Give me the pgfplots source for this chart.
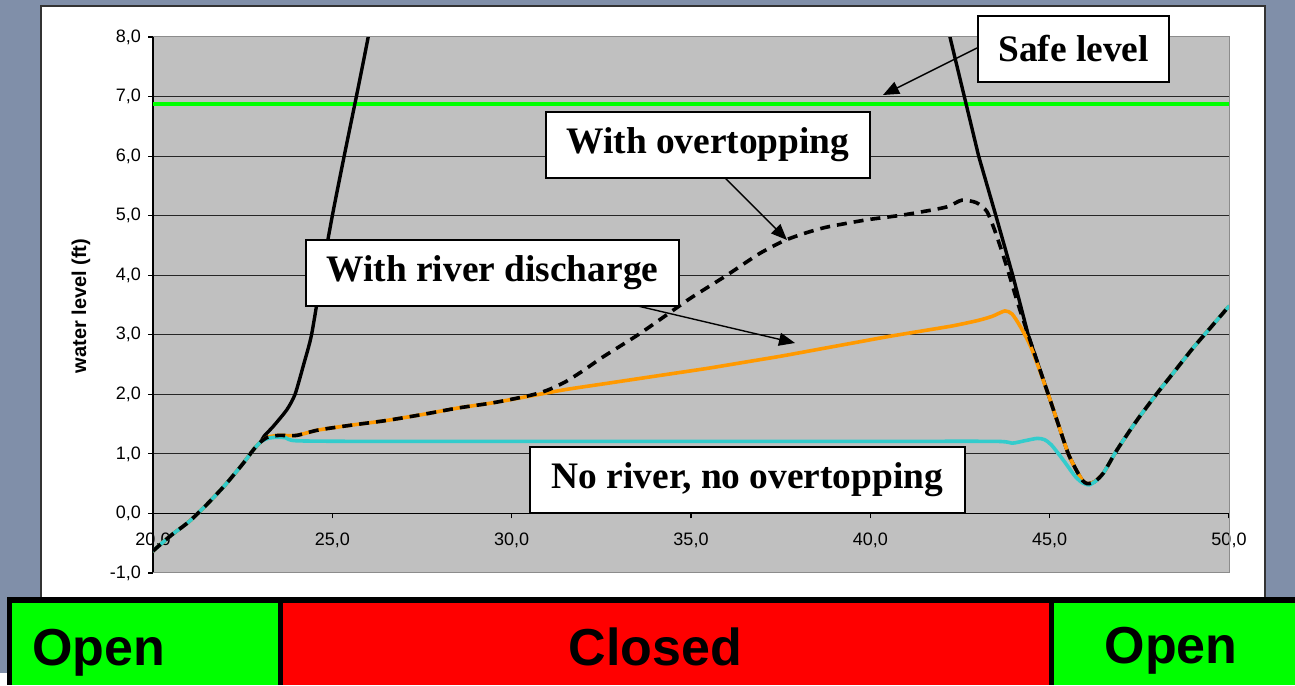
\documentclass[border=0pt]{standalone}
\usepackage{pgfplots}
\pgfplotsset{compat=1.18}
\usepackage{fontspec}
\setmainfont{Liberation Serif}
\newfontfamily\arial{Liberation Sans}
\usetikzlibrary{arrows.meta}

\definecolor{slide}{RGB}{128,143,169}
\definecolor{plotgrey}{RGB}{192,192,192}
\definecolor{safegreen}{RGB}{0,255,0}
\definecolor{riverorange}{RGB}{255,153,0}
\definecolor{basecyan}{RGB}{51,204,204}
\definecolor{gateopen}{RGB}{0,255,0}
\definecolor{gateclosed}{RGB}{255,0,0}

\begin{document}
\begin{tikzpicture}
% page layout in half-point units, origin at the top-left corner
\begin{scope}[yshift=342.5pt, x=0.5pt, y=-0.5pt]
  \useasboundingbox (0,0) rectangle (1295,685);
  \fill[slide] (0,0) rectangle (1295,685);
  \fill[white] (0,673) rectangle (7,685);
  \filldraw[fill=white, draw=black!80, line width=0.6pt] (41,6) rectangle (1265,598);
\end{scope}

\begin{axis}[
  at={(76.5pt,56pt)}, anchor=south west,
  scale only axis, width=538pt, height=268pt,
  xmin=20, xmax=50, ymin=-1, ymax=8,
  axis x line=middle, axis y line=left,
  axis line style={-, black, line width=0.6pt},
  hide obscured x ticks=false, hide obscured y ticks=false,
  axis background/.style={fill=plotgrey},
  xtick={20,25,...,50}, ytick={-1,0,...,8},
  ymajorgrids, major grid style={black!85, line width=0.5pt},
  tick align=outside, major tick length=2.5pt,
  tick style={black, line width=0.6pt},
  ticklabel style={font=\arial\fontsize{9}{10}\selectfont},
  xticklabel style={yshift=-3.5pt},
  /pgf/number format/fixed,
  /pgf/number format/fixed zerofill,
  /pgf/number format/precision=1,
  /pgf/number format/use comma,
  /pgf/number format/assume math mode=true,
  every axis plot/.append style={line join=round, line cap=round},
]
% safe level
\addplot[safegreen, line width=2pt] coordinates {(20,6.88) (50,6.88)};

% no gate: rises out of view and comes back down after the surge
\addplot[black, line width=1.7pt, smooth, tension=0.4] coordinates {
  (20.0,-0.63) (20.5,-0.37) (21.0,-0.14) (21.5,0.15) (22.0,0.47) (22.5,0.83) (22.8,1.07) (23.0,1.2)
  (23.1,1.3) (23.35,1.46) (23.73,1.74) (23.96,2.0) (24.2,2.5) (24.42,3.0) (24.7,4.0) (25.0,5.0)
  (25.33,6.0) (25.67,7.0) (26.0,8.0) (26.3,9.0) (26.6,10.0)};
\addplot[black, line width=1.7pt] coordinates {
  (41.65,9.5) (42.22,8.0) (42.62,7.0) (43.02,6.0) (43.5,5.0) (43.97,4.0) (44.4,3.0)};
\addplot[black, line width=1.7pt, smooth, tension=0.4] coordinates {
  (44.4,3.0) (44.96,2.0)
  (45.25,1.48) (45.52,1.0) (45.75,0.72) (45.92,0.55) (46.05,0.5) (46.25,0.53) (46.5,0.68) (46.85,1.04)
  (47.2,1.36) (47.5,1.62) (48.0,2.02) (48.5,2.4) (49.0,2.78) (49.5,3.13) (50.0,3.48)};

% with river discharge
\addplot[riverorange, line width=1.8pt, smooth, tension=0.4] coordinates {
  (20.0,-0.63) (20.5,-0.37) (21.0,-0.14) (21.5,0.15) (22.0,0.47) (22.5,0.83) (22.8,1.07) (23.0,1.2)
  (23.2,1.28) (23.5,1.31) (24.0,1.31) (24.6,1.4) (25.5,1.48) (26.5,1.56) (27.5,1.66) (28.5,1.77)
  (29.5,1.86) (30.5,1.97) (31.5,2.08) (32.5,2.17) (33.5,2.26) (34.5,2.35) (35.5,2.44) (36.5,2.54)
  (37.5,2.64) (38.5,2.75) (39.5,2.86) (40.5,2.97) (41.5,3.07) (42.3,3.15) (43.0,3.24) (43.4,3.31)
  (43.75,3.4) (43.95,3.35) (44.2,3.12) (44.5,2.76) (44.96,2.0)
  (45.25,1.48) (45.52,1.0) (45.75,0.72) (45.92,0.55) (46.05,0.5) (46.25,0.53) (46.5,0.68) (46.85,1.04)
  (47.2,1.36) (47.5,1.62) (48.0,2.02) (48.5,2.4) (49.0,2.78) (49.5,3.13) (50.0,3.48)};

% no river, no overtopping
\addplot[basecyan, line width=1.8pt, smooth, tension=0.4] coordinates {
  (20.0,-0.63) (20.5,-0.37) (21.0,-0.14) (21.5,0.15) (22.0,0.47) (22.5,0.83) (22.8,1.07) (23.0,1.2)
  (23.2,1.26) (23.45,1.28) (23.7,1.27) (24.0,1.22) (26,1.21) (30,1.21) (35,1.21) (40,1.21) (43.5,1.21)
  (43.95,1.18) (44.3,1.22) (44.65,1.26) (44.85,1.24) (45.05,1.15) (45.4,0.88) (45.7,0.63) (45.9,0.52)
  (46.1,0.48) (46.3,0.55) (46.5,0.68) (46.85,1.04)
  (47.2,1.36) (47.5,1.62) (48.0,2.02) (48.5,2.4) (49.0,2.78) (49.5,3.13) (50.0,3.48)};

% with overtopping
\addplot[black, line width=1.8pt, dash pattern=on 5pt off 3.5pt, line cap=butt, smooth, tension=0.4] coordinates {
  (20.0,-0.63) (20.5,-0.37) (21.0,-0.14) (21.5,0.15) (22.0,0.47) (22.5,0.83) (22.8,1.07) (23.0,1.2)
  (23.2,1.28) (23.5,1.31) (24.0,1.31) (24.6,1.4) (25.5,1.48) (26.5,1.56) (27.5,1.66) (28.5,1.77)
  (29.5,1.86) (30.5,1.98) (31.0,2.07) (31.5,2.21) (32.0,2.4) (32.5,2.61) (33.0,2.8) (33.6,3.03)
  (34.5,3.41) (35.0,3.62) (36.0,4.0) (36.9,4.36) (37.6,4.58) (38.2,4.71) (38.8,4.81) (39.9,4.93)
  (40.9,5.01) (41.85,5.11) (42.2,5.16) (42.55,5.26) (42.95,5.22) (43.25,5.07) (43.5,4.7) (43.8,4.15)
  (44.1,3.55) (44.4,3.0) (44.96,2.0)
  (45.25,1.48) (45.52,1.0) (45.75,0.72) (45.92,0.55) (46.05,0.5) (46.25,0.53) (46.5,0.68) (46.85,1.04)
  (47.2,1.36) (47.5,1.62) (48.0,2.02) (48.5,2.4) (49.0,2.78) (49.5,3.13) (50.0,3.48)};
\end{axis}

% plot-area frame (top, right, bottom)
\draw[black!45, line width=0.5pt] (76.5pt,324pt) -- (614.5pt,324pt) -- (614.5pt,56pt) -- (76.5pt,56pt);

\begin{scope}[yshift=342.5pt, x=0.5pt, y=-0.5pt]
  \tikzset{
    callout/.style={draw=black, line width=1pt, fill=white, inner sep=0pt, anchor=center,
      font=\bfseries\fontsize{18.7}{20}\selectfont},
    pointer/.style={line width=0.7pt, -{Triangle[length=8pt,width=6.5pt]}}}
  \node[rotate=90, font=\arial\bfseries\fontsize{10}{12}\selectfont] at (81,306) {water level (ft)};

  \draw[pointer] (977,48) -- (883,95);
  \draw[pointer] (722,175) -- (787,240);
  \draw[pointer] (625,303) -- (795,343);

  \node[callout, minimum width=95.5pt, minimum height=33pt] at (1073.5,49) {Safe level};
  \node[callout, minimum width=162pt, minimum height=33pt] at (708,145) {With overtopping};
  \node[callout, minimum width=186.5pt, minimum height=33pt] at (492.5,273) {With river discharge};
  \node[callout, minimum width=217.5pt, minimum height=33pt] at (747.5,480) {No river, no overtopping};

  % gate status bar
  \fill[black] (7,597) rectangle (1295,685);
  \fill[gateopen] (12,603) rectangle (278,685);
  \fill[gateclosed] (283,603) rectangle (1049,685);
  \fill[gateopen] (1054,603) rectangle (1295,685);
  \node[anchor=base, font=\arial\bfseries\fontsize{26}{30}\selectfont] at (98.5,666) {Open};
  \node[anchor=base, font=\arial\bfseries\fontsize{26}{30}\selectfont] at (655.5,666) {Closed};
  \node[anchor=base, font=\arial\bfseries\fontsize{26}{30}\selectfont] at (1171,664) {Open};
\end{scope}
\end{tikzpicture}
\end{document}
